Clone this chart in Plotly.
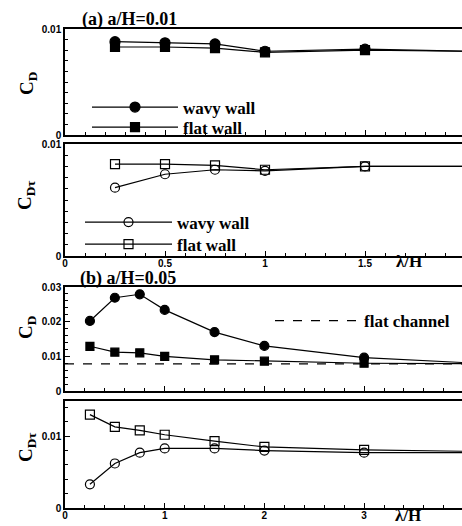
import plotly.graph_objects as go

# ---- data ----------------------------------------------------------------
# (a) a/H = 0.01
lam_a = [0.25, 0.5, 0.75, 1.0, 1.5, 2.0]
cd_a_wavy = [0.0088, 0.0087, 0.0086, 0.0079, 0.0081, 0.0079]
cd_a_flat = [0.0083, 0.0083, 0.0082, 0.0078, 0.0080, 0.0079]
cdt_a_wavy = [0.0061, 0.0073, 0.0077, 0.0076, 0.0080, 0.0080]
cdt_a_flat = [0.0082, 0.0082, 0.0081, 0.0077, 0.0080, 0.0080]

# (b) a/H = 0.05
lam_b = [0.25, 0.5, 0.75, 1.0, 1.5, 2.0, 3.0, 4.0]
cd_b_wavy = [0.0202, 0.0269, 0.0279, 0.0234, 0.0170, 0.0130, 0.0096, 0.0082]
cd_b_flat = [0.0129, 0.0112, 0.0110, 0.0100, 0.0090, 0.0086, 0.0080, 0.0079]
cdt_b_wavy = [0.0033, 0.0062, 0.0077, 0.0083, 0.0083, 0.0080, 0.0077, 0.0077]
cdt_b_flat = [0.0130, 0.0113, 0.0108, 0.0102, 0.0093, 0.0085, 0.0081, 0.0079]

cd_flat_channel = 0.0078
lam_channel = [0.0, 4.0]

W, H = 462, 526


def px_x(p):
    return p / W


def px_y(p):
    return 1 - p / H


SERIF = "Liberation Serif"
SANS = "Liberation Sans"

fig = go.Figure()


def series(x, y, xa, ya, symbol, size, name, legend, show, dash="solid"):
    fig.add_trace(go.Scatter(
        x=x, y=y, xaxis=xa, yaxis=ya, name=name,
        mode="lines+markers" if symbol else "lines",
        line=dict(color="black", width=1.2, dash=dash),
        marker=dict(symbol=symbol or "circle", size=size, color="black",
                    line=dict(color="black", width=1.2)),
        showlegend=show, legend=legend, cliponaxis=False,
    ))


# panel 1: C_D, a/H = 0.01
series(lam_a, cd_a_wavy, "x", "y", "circle", 10, "wavy wall", "legend", True)
series(lam_a, cd_a_flat, "x", "y", "square", 9, "flat wall", "legend2", True)
# panel 2: C_Dtau, a/H = 0.01
series(lam_a, cdt_a_wavy, "x2", "y2", "circle-open", 9, "wavy wall", "legend3", True)
series(lam_a, cdt_a_flat, "x2", "y2", "square-open", 9, "flat wall", "legend4", True)
# panel 3: C_D, a/H = 0.05
series(lam_b, cd_b_wavy, "x3", "y3", "circle", 9, "wavy wall", "legend5", False)
series(lam_b, cd_b_flat, "x3", "y3", "square", 8, "flat wall", "legend5", False)
series(lam_channel, [cd_flat_channel] * 2, "x3", "y3", None, 0, "flat channel",
       "legend5", True, dash="dash")
# panel 4: C_Dtau, a/H = 0.05
series(lam_b, cdt_b_wavy, "x4", "y4", "circle-open", 9, "wavy wall", "legend5", False)
series(lam_b, cdt_b_flat, "x4", "y4", "square-open", 9, "flat wall", "legend5", False)

tickfont = dict(family=SANS, size=10, color="black", weight="bold")

# vertical extents of the four panels (pixel rows, top -> bottom)
rows = [(29, 135), (144, 256), (287, 391), (401, 508)]
x_left = 65
xr_a = [0, (W - x_left) / 200.0]
xr_b = [0, (W - x_left) / 99.7]

xcommon = dict(showline=True, linecolor="black", linewidth=1.5, mirror=True,
               ticks="inside", ticklen=5, tickwidth=1, tickcolor="black",
               showgrid=False, zeroline=False, automargin=False,
               tickfont=tickfont, domain=[px_x(x_left), 1],
               ticklabelstandoff=-3)
ycommon = dict(showline=True, linecolor="black", linewidth=1.5, mirror=False,
               ticks="inside", ticklen=5, tickwidth=1, tickcolor="black",
               showgrid=False, zeroline=False, automargin=False,
               tickfont=tickfont)

layout_axes = {}
xspecs = [
    ("xaxis", "y", xr_a, 0.1, False, [0, 0.5, 1, 1.5], ["0", "0.5", "1", "1.5"]),
    ("xaxis2", "y2", xr_a, 0.1, True, [0, 0.5, 1, 1.5], ["0", "0.5", "1", "1.5"]),
    ("xaxis3", "y3", xr_b, 0.2, False, [0, 1, 2, 3], ["0", "1", "2", "3"]),
    ("xaxis4", "y4", xr_b, 0.2, True, [0, 1, 2, 3], ["0", "1", "2", "3"]),
]
for name, anchor, rng, mdt, showlab, tv, tt in xspecs:
    layout_axes[name] = dict(xcommon, anchor=anchor, range=rng,
                             tickvals=tv, ticktext=tt, showticklabels=showlab,
                             minor=dict(dtick=mdt, ticks="inside", ticklen=3,
                                        tickcolor="black", showgrid=False))

yspecs = [
    ("yaxis", "x", rows[0], [0, 0.01], [0, 0.01], ["0", "0.01"], 0.001),
    ("yaxis2", "x2", rows[1], [0, 0.01], [0, 0.01], ["0", "0.01"], 0.001),
    ("yaxis3", "x3", rows[2], [0, 0.03], [0, 0.01, 0.02, 0.03], ["0", "0.01", "0.02", "0.03"], 0.002),
    ("yaxis4", "x4", rows[3], [0, 0.0149], [0, 0.01], ["0", "0.01"], 0.002),
]
for name, anchor, (top, bot), rng, tv, tt, mdt in yspecs:
    layout_axes[name] = dict(ycommon, anchor=anchor, range=rng,
                             domain=[px_y(bot), px_y(top)],
                             tickvals=tv, ticktext=tt,
                             minor=dict(dtick=mdt, ticks="inside", ticklen=3,
                                        tickcolor="black", showgrid=False))

legfont = dict(family=SERIF, size=17, color="black", weight="bold")


def legend_at(xp, yp, width):
    return dict(x=px_x(xp), y=px_y(yp), xanchor="left", yanchor="top",
                itemwidth=width, font=legfont, bgcolor="rgba(0,0,0,0)",
                borderwidth=0, tracegroupgap=0, traceorder="normal")


annotations = []


def text(xp, yp, s, size, angle=0, family=SERIF, xanchor="left"):
    annotations.append(dict(
        x=px_x(xp), y=px_y(yp), xref="paper", yref="paper", text=s,
        showarrow=False, xanchor=xanchor, yanchor="middle", textangle=angle,
        font=dict(family=family, size=size, color="black", weight="bold")))


text(80, 20, "(a) a/H=0.01", 18)
text(78, 278, "(b) a/H=0.05", 18)
text(28, 84, "C<sub>D</sub>", 19, angle=-90, xanchor="center")
text(26, 196, "C<sub>Dτ</sub>", 19, angle=-90, xanchor="center")
text(27, 328, "C<sub>D</sub>", 19, angle=-90, xanchor="center")
text(27, 448, "C<sub>Dτ</sub>", 19, angle=-90, xanchor="center")
text(409, 262, "λ/H", 17, xanchor="center")
text(408, 515, "λ/H", 17, xanchor="center")

fig.update_layout(
    width=W, height=H,
    margin=dict(l=0, r=0, t=0, b=0),
    paper_bgcolor="white", plot_bgcolor="white",
    legend=legend_at(87, 89.5, 86),
    legend2=legend_at(87, 109.5, 86),
    legend3=legend_at(80, 204.5, 87),
    legend4=legend_at(80, 226.5, 87),
    legend5=legend_at(270, 303, 84),
    annotations=annotations,
    **layout_axes,
)

fig.write_html("out.html")
